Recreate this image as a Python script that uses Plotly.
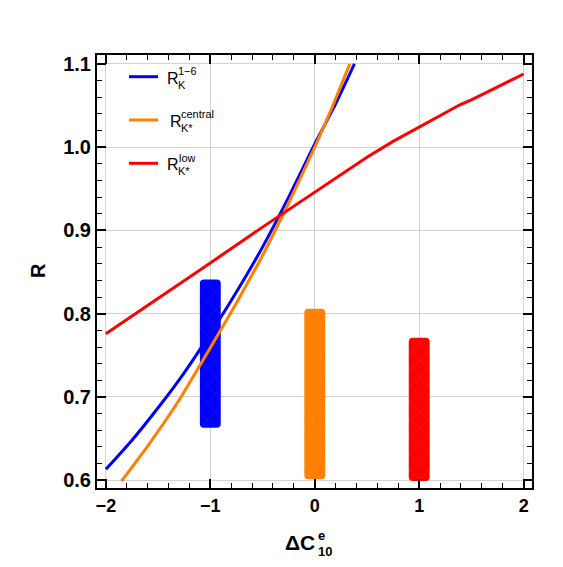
import plotly.graph_objects as go

# ---------------- data ----------------
blue_x = [-2.0, -1.75, -1.5, -1.25, -1.0, -0.75, -0.5, -0.25, 0.0, 0.2, 0.38]
blue_y = [0.613, 0.648, 0.687, 0.729, 0.776, 0.826, 0.880, 0.940, 1.004, 1.052, 1.100]

orange_x = [-1.85, -1.6, -1.3, -1.0, -0.75, -0.5, -0.25, 0.0, 0.15, 0.335]
orange_y = [0.599, 0.641, 0.696, 0.759, 0.813, 0.870, 0.933, 1.0, 1.043, 1.100]

red_x = [-2.0, -1.5, -1.0, -0.5, 0.0, 0.25, 0.5, 0.75, 1.0, 1.2, 1.39, 1.5, 1.75, 2.0]
red_y = [0.776, 0.818, 0.861, 0.904, 0.946, 0.967, 0.988, 1.007, 1.024, 1.038, 1.051, 1.057, 1.073, 1.088]

bar_x = [-1, 0, 1]
bar_low = [0.663, 0.601, 0.599]
bar_high = [0.841, 0.806, 0.771]

legend_sup = ["1\u22126", "central", "low"]
legend_sub = ["K", "K*", "K*"]

BLUE = "#0000FF"
ORANGE = "#FF7F00"
RED = "#FF0000"
colors = [BLUE, ORANGE, RED]

FONT = "Liberation Sans, Arial, sans-serif"

fig = go.Figure()

# bars (error bands)
for xc, lo, hi, col in zip(bar_x, bar_low, bar_high, colors):
    fig.add_trace(go.Bar(
        x=[xc], y=[hi - lo], base=[lo], width=0.2,
        marker=dict(color=col, line=dict(width=0), cornerradius=4,
                    pattern=dict(shape="x", fgcolor="white", fgopacity=0.15,
                                 size=12, solidity=0.07, fillmode="overlay")),
        showlegend=False, hoverinfo="skip"))

# curves
fig.add_trace(go.Scatter(x=blue_x, y=blue_y, mode="lines",
                         line=dict(color=BLUE, width=3, shape="spline", smoothing=0.5),
                         showlegend=False))
fig.add_trace(go.Scatter(x=orange_x, y=orange_y, mode="lines",
                         line=dict(color=ORANGE, width=3, shape="spline", smoothing=0.5),
                         showlegend=False))
fig.add_trace(go.Scatter(x=red_x, y=red_y, mode="lines",
                         line=dict(color=RED, width=3),
                         showlegend=False))

# ---------------- layout helpers (pixel -> paper) ----------------
L, R_, T, B = 97, 532, 55, 488
def px(x):
    return (x - L) / (R_ - L)
def py(y):
    return (B - y) / (B - T)

shapes = []
annotations = []
rows = [76.7, 120.0, 163.3]
rx = [164.5, 167.5, 165.0]
for i, (row, col) in enumerate(zip(rows, colors)):
    shapes.append(dict(type="line", xref="paper", yref="paper",
                       x0=px(129), x1=px(158), y0=py(row), y1=py(row),
                       line=dict(color=col, width=3)))
    annotations.append(dict(text="R", xref="paper", yref="paper", x=px(rx[i]), y=py(row + 1.5),
                            xanchor="left", yanchor="middle", showarrow=False,
                            font=dict(family=FONT, size=16, color="black")))
    annotations.append(dict(text=legend_sup[i], xref="paper", yref="paper", x=px(rx[i] + 12.5), y=py(row - 6),
                            xanchor="left", yanchor="middle", showarrow=False, height=9, borderpad=0,
                            font=dict(family=FONT, size=11, color="black")))
    annotations.append(dict(text=legend_sub[i], xref="paper", yref="paper", x=px(rx[i] + 12), y=py(row + 7.5),
                            xanchor="left", yanchor="middle", showarrow=False, height=9, borderpad=0,
                            font=dict(family=FONT, size=11, color="black")))

# axis titles
annotations.append(dict(text="\u0394C", xref="paper", yref="paper", x=px(317), y=py(542.5),
                        xanchor="right", yanchor="middle", showarrow=False,
                        font=dict(family=FONT, size=21, color="black", weight="bold")))
annotations.append(dict(text="e", xref="paper", yref="paper", x=px(317), y=py(535),
                        xanchor="left", yanchor="middle", showarrow=False, height=10, borderpad=0,
                        font=dict(family=FONT, size=13, color="black", weight="bold")))
annotations.append(dict(text="10", xref="paper", yref="paper", x=px(316.5), y=py(551),
                        xanchor="left", yanchor="middle", showarrow=False, height=10, borderpad=0,
                        font=dict(family=FONT, size=13, color="black", weight="bold")))
annotations.append(dict(text="R", xref="paper", yref="paper", x=px(38), y=py(270),
                        xanchor="center", yanchor="middle", textangle=-90, showarrow=False,
                        font=dict(family=FONT, size=20, color="black", weight="bold")))

axis_common = dict(showline=True, linewidth=2, linecolor="black", mirror="allticks",
                   ticks="inside", ticklen=9, tickwidth=1.5, tickcolor="black",
                   showgrid=True, gridcolor="#d3d3d3", gridwidth=1, zeroline=False)

fig.update_layout(
    width=563, height=567,
    margin=dict(l=L, r=563 - R_, t=T, b=567 - B),
    paper_bgcolor="white", plot_bgcolor="white",
    barmode="overlay",
    shapes=shapes, annotations=annotations,
    xaxis=dict(range=[-2.085, 2.08], dtick=1, tick0=0,
               tickfont=dict(family=FONT, size=18, color="black", weight="bold"),
               minor=dict(dtick=0.2, ticklen=5, tickwidth=1.2, tickcolor="black", ticks="inside", showgrid=False),
               **axis_common),
    yaxis=dict(range=[0.5906, 1.1108], dtick=0.1, tick0=0.6, tickformat=".1f",
               tickfont=dict(family=FONT, size=20, color="black", weight="bold"),
               minor=dict(dtick=0.02, ticklen=5, tickwidth=1.2, tickcolor="black", ticks="inside", showgrid=False),
               **axis_common),
)

fig.write_html("out.html")
